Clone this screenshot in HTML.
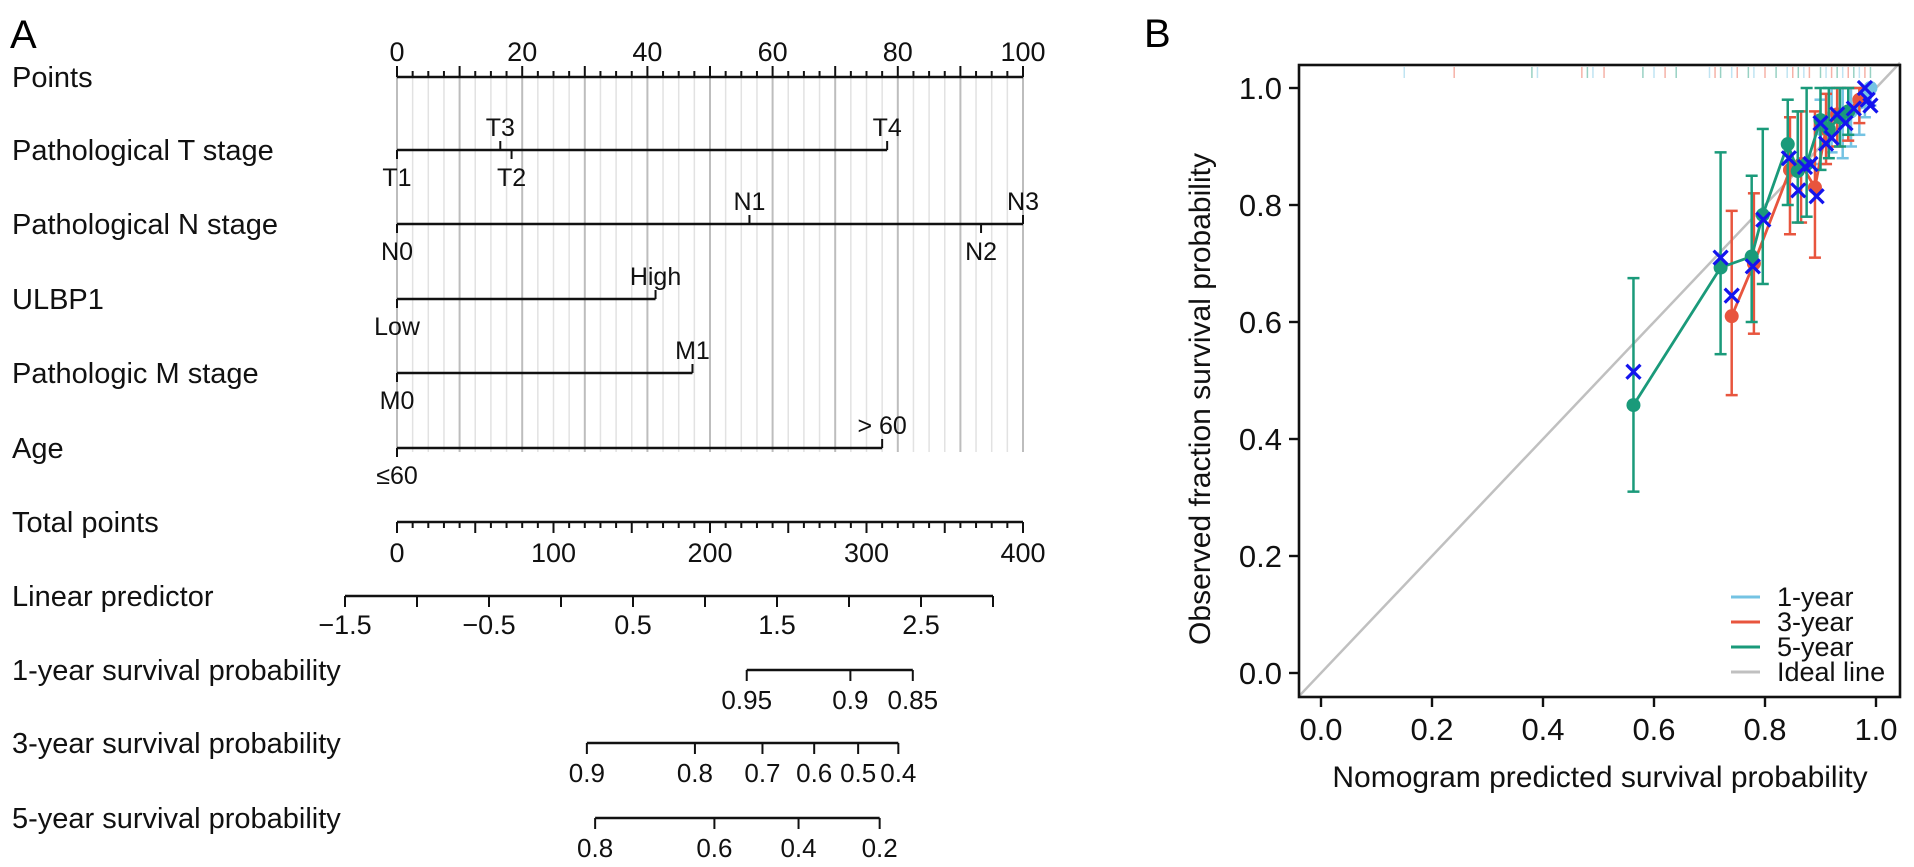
<!DOCTYPE html>
<html><head><meta charset="utf-8">
<style>
html,body{margin:0;padding:0;background:#fff;}
svg{display:block;font-family:"Liberation Sans",Arial,sans-serif;}
</style></head>
<body>
<svg id="fig" width="1914" height="867" viewBox="0 0 1914 867" xmlns="http://www.w3.org/2000/svg">
<text x="10" y="48" font-size="40">A</text>
<text x="1144" y="47" font-size="40">B</text>
<g id="nomo"></g>
<g id="calib"></g>
</svg>
<script>
// ---------- Nomogram data ----------
const rowNames = ["Points","Pathological T stage","Pathological N stage","ULBP1","Pathologic M stage","Age","Total points","Linear predictor","1-year survival probability","3-year survival probability","5-year survival probability"];
const tLabels = ["T1","T3","T2","T4"];
const tPoints = [0,16.5,18.3,78.3];
const nLabels = ["N0","N1","N2","N3"];
const nPoints = [0,56.3,93.3,100];
const ulbpLabels = ["Low","High"];
const ulbpPoints = [0,41.3];
const mLabels = ["M0","M1"];
const mPoints = [0,47.2];
const ageLabels = ["\u226460","> 60"];
const agePoints = [0,77.5];
const pointTicks = [0,20,40,60,80,100];
const totalTicks = [0,100,200,300,400];
const lpTicks = [-1.5,-0.5,0.5,1.5,2.5];
const lpRange = [-1.5,3.0];
const surv1Ticks = [0.95,0.9,0.85];
const surv3Ticks = [0.9,0.8,0.7,0.6,0.5,0.4];
const surv5Ticks = [0.8,0.6,0.4,0.2];
const survOffsets = [4.26,2.43,1.737];

// ---------- Calibration data ----------
const pred5 = [0.563,0.72,0.776,0.796,0.841,0.859,0.875,0.90,0.915,0.935,0.95];
const obs5  = [0.458,0.693,0.712,0.783,0.904,0.858,0.87,0.945,0.93,0.95,0.96];
const lo5   = [0.31,0.545,0.60,0.665,0.80,0.77,0.78,0.86,0.88,0.90,0.92];
const hi5   = [0.675,0.89,0.85,0.93,0.98,0.96,1.0,1.0,1.0,1.0,1.0];
const pred3 = [0.74,0.78,0.845,0.865,0.89,0.91,0.93,0.95,0.97];
const obs3  = [0.61,0.70,0.86,0.87,0.83,0.93,0.955,0.96,0.98];
const lo3   = [0.475,0.58,0.75,0.77,0.71,0.87,0.90,0.91,0.94];
const hi3   = [0.79,0.82,0.95,0.96,0.96,0.99,1.0,1.0,1.0];
const pred1 = [0.90,0.92,0.94,0.955,0.97,0.98,0.99];
const obs1  = [0.93,0.95,0.955,0.96,0.975,0.99,1.0];
const lo1   = [0.87,0.89,0.88,0.90,0.92,0.95,0.97];
const hi1   = [0.98,1.0,1.0,1.0,1.0,1.0,1.0];
const predX = [0.563,0.72,0.74,0.778,0.797,0.843,0.86,0.872,0.882,0.893,0.90,0.91,0.92,0.93,0.945,0.96,0.98,0.985,0.99];
const obsX  = [0.515,0.71,0.645,0.695,0.775,0.88,0.825,0.865,0.87,0.815,0.94,0.905,0.915,0.955,0.94,0.965,1.0,0.98,0.97];
const rugVals = [0.15,0.24,0.38,0.39,0.47,0.48,0.49,0.51,0.58,0.6,0.62,0.64,0.7,0.71,0.72,0.74,0.75,0.77,0.78,0.8,0.82,0.84,0.85,0.86,0.87,0.88,0.9,0.91,0.92,0.93,0.94,0.95,0.96,0.97,0.98,0.99];
const xTicks = [0,0.2,0.4,0.6,0.8,1.0];
const yTicks = [0,0.2,0.4,0.6,0.8,1.0];

const NS="http://www.w3.org/2000/svg";
function mk(parent,tag,attrs,text){const e=document.createElementNS(NS,tag);for(const k in attrs)e.setAttribute(k,attrs[k]);if(text!==undefined)e.textContent=text;parent.appendChild(e);return e;}

// ---------- Nomogram ----------
const nomo=document.getElementById('nomo');
const X0=397,X1=1023;
const px=p=>X0+(X1-X0)*p/100;
const tx=t=>X0+(X1-X0)*t/400;
const lx=v=>345+(v-lpRange[0])*144;
const rowY=[77,150,224,299,373,448,522,596,670,743,818];
const LW=2.6;

for(let p=0;p<=100;p+=2.5){
  const major=Math.abs(p/10-Math.round(p/10))<1e-6;
  const g=mk(nomo,'line',{x1:px(p),x2:px(p),y1:rowY[0],y2:rowY[5]+4,stroke:major?'#bdbdbd':'#e2e2e2','stroke-width':major?2:1.5});
  
  
}
rowNames.forEach((n,i)=>{
  const t=mk(nomo,'text',{x:12,y:rowY[i]+10,'font-size':29,fill:'#111'},n);
  
  
});
mk(nomo,'line',{x1:X0,x2:X1,y1:rowY[0],y2:rowY[0],stroke:'#111','stroke-width':LW});
for(let p=0;p<=100;p+=2.5){
  const major=Math.abs(p/10-Math.round(p/10))<1e-6;
  mk(nomo,'line',{x1:px(p),x2:px(p),y1:rowY[0],y2:rowY[0]-(major?11:6),stroke:'#111','stroke-width':2});
}
pointTicks.forEach(v=>{const t=mk(nomo,'text',{x:px(v),y:rowY[0]-16,'font-size':27,'text-anchor':'middle',fill:'#111'},v);
  });
function varRow(y,labels,pts,name){
  const mx=Math.max(...pts);
  const l=mk(nomo,'line',{x1:px(0),x2:px(mx),y1:y,y2:y,stroke:'#111','stroke-width':LW});
  
  
  const sorted=pts.map((p,i)=>[p,i]).sort((a,b)=>a[0]-b[0]);
  sorted.forEach(([p,i],k)=>{
    const up=k%2===1;
    mk(nomo,'line',{x1:px(p),x2:px(p),y1:y,y2:up?y-9:y+9,stroke:'#111','stroke-width':2});
    const t=mk(nomo,'text',{x:px(p),y:up?y-14:y+36,'font-size':25,'text-anchor':'middle',fill:'#111'},labels[i]);
    
    
  });
}
varRow(rowY[1],tLabels,tPoints,'t-stage');
varRow(rowY[2],nLabels,nPoints,'n-stage');
varRow(rowY[3],ulbpLabels,ulbpPoints,'ulbp1');
varRow(rowY[4],mLabels,mPoints,'m-stage');
varRow(rowY[5],ageLabels,agePoints,'age');
mk(nomo,'line',{x1:tx(0),x2:tx(400),y1:rowY[6],y2:rowY[6],stroke:'#111','stroke-width':LW});
for(let v=0;v<=400;v+=10){const major=v%50===0;
  mk(nomo,'line',{x1:tx(v),x2:tx(v),y1:rowY[6],y2:rowY[6]+(major?11:6),stroke:'#111','stroke-width':2});}
totalTicks.forEach(v=>{const t=mk(nomo,'text',{x:tx(v),y:rowY[6]+40,'font-size':27,'text-anchor':'middle',fill:'#111'},v);
  });
mk(nomo,'line',{x1:lx(lpRange[0]),x2:lx(lpRange[1]),y1:rowY[7],y2:rowY[7],stroke:'#111','stroke-width':LW});
for(let v=lpRange[0];v<=lpRange[1]+1e-9;v+=0.5){
  mk(nomo,'line',{x1:lx(v),x2:lx(v),y1:rowY[7],y2:rowY[7]+11,stroke:'#111','stroke-width':2});}
lpTicks.forEach(v=>{const t=mk(nomo,'text',{x:lx(v),y:rowY[7]+38,'font-size':27,'text-anchor':'middle',fill:'#111'},(v<0?'\u2212':'')+Math.abs(v).toFixed(1));
  });
function survRow(y,ticks,off,name){
  const sx=p=>lx(Math.log(-Math.log(p))+off);
  const xs=ticks.map(sx);
  const l=mk(nomo,'line',{x1:Math.min(...xs),x2:Math.max(...xs),y1:y,y2:y,stroke:'#111','stroke-width':LW});
  
  
  ticks.forEach(p=>{
    mk(nomo,'line',{x1:sx(p),x2:sx(p),y1:y,y2:y+11,stroke:'#111','stroke-width':2});
    const t=mk(nomo,'text',{x:sx(p),y:y+39,'font-size':26,'text-anchor':'middle',fill:'#111'},String(p));
    
    
  });
}
survRow(rowY[8],surv1Ticks,survOffsets[0],'surv1');
survRow(rowY[9],surv3Ticks,survOffsets[1],'surv3');
survRow(rowY[10],surv5Ticks,survOffsets[2],'surv5');

// ---------- Calibration plot ----------
const cal=document.getElementById('calib');
const BL=1299,BR=1900,BT=65,BB=697;
const cx=v=>1321+555*v;
const cy=v=>673-585*v;
const C1='#74c3e3',C3='#e8553e',C5='#1a9a7a',CX='#1414ee';
const il=mk(cal,'line',{x1:BL,y1:cy((BL-1321)/555),x2:BR,y2:cy((BR-1321)/555),stroke:'#c0c0c0','stroke-width':2.5});

rugVals.forEach((v,i)=>{
  const r=mk(cal,'line',{x1:cx(v),x2:cx(v),y1:BT+2,y2:BT+13,stroke:[C1,C3,C5][i%3],'stroke-opacity':0.45,'stroke-width':1.5});
  
});
function series(pred,obs,lo,hi,col,name){
  const g=mk(cal,'g',{});
  
  
  pred.forEach((p,i)=>{
    mk(g,'line',{x1:cx(p),x2:cx(p),y1:cy(lo[i]),y2:cy(hi[i]),stroke:col,'stroke-width':2.5});
    mk(g,'line',{x1:cx(p)-6,x2:cx(p)+6,y1:cy(lo[i]),y2:cy(lo[i]),stroke:col,'stroke-width':2.5});
    mk(g,'line',{x1:cx(p)-6,x2:cx(p)+6,y1:cy(hi[i]),y2:cy(hi[i]),stroke:col,'stroke-width':2.5});
  });
  mk(g,'polyline',{points:pred.map((p,i)=>cx(p)+','+cy(obs[i])).join(' '),fill:'none',stroke:col,'stroke-width':2.8});
  pred.forEach((p,i)=>{
    const c=mk(g,'circle',{cx:cx(p),cy:cy(obs[i]),r:7,fill:col});
    
    
  });
}
series(pred1,obs1,lo1,hi1,C1,'one-year');
series(pred3,obs3,lo3,hi3,C3,'three-year');
series(pred5,obs5,lo5,hi5,C5,'five-year');
predX.forEach((p,i)=>{
  const x=cx(p),y=cy(obsX[i]);
  const m=mk(cal,'path',{d:`M${x-7},${y-7}L${x+7},${y+7}M${x-7},${y+7}L${x+7},${y-7}`,stroke:CX,'stroke-width':3.2,fill:'none'});
  
  
});
const box=mk(cal,'rect',{x:BL,y:BT,width:BR-BL,height:BB-BT,fill:'none',stroke:'#111','stroke-width':2.6});

xTicks.forEach(v=>{
  mk(cal,'line',{x1:cx(v),x2:cx(v),y1:BB,y2:BB+10,stroke:'#111','stroke-width':2.4});
  const t=mk(cal,'text',{x:cx(v),y:BB+43,'font-size':31,'text-anchor':'middle',fill:'#111'},v.toFixed(1));
  
});
yTicks.forEach(v=>{
  mk(cal,'line',{x1:BL-10,x2:BL,y1:cy(v),y2:cy(v),stroke:'#111','stroke-width':2.4});
  const t=mk(cal,'text',{x:BL-17,y:cy(v)+11,'font-size':31,'text-anchor':'end',fill:'#111'},v.toFixed(1));
  
});
const xt=mk(cal,'text',{x:1600,y:787,'font-size':30,'text-anchor':'middle',fill:'#111'},'Nomogram predicted survival probability');

const yt=mk(cal,'text',{x:0,y:0,'font-size':30,'text-anchor':'middle',fill:'#111',transform:'translate(1210,399) rotate(-90)'},'Observed fraction survival probability');

const legLabels=['1-year','3-year','5-year','Ideal line'];
const legColors=[C1,C3,C5,'#c0c0c0'];
legLabels.forEach((l,i)=>{
  const y=597+25*i;
  const g=mk(cal,'g',{});
  
  
  mk(g,'line',{x1:1731,x2:1760,y1:y,y2:y,stroke:legColors[i],'stroke-width':3});
  mk(g,'text',{x:1777,y:y+9,'font-size':27,fill:'#111'},l);
});
</script>
</body></html>
